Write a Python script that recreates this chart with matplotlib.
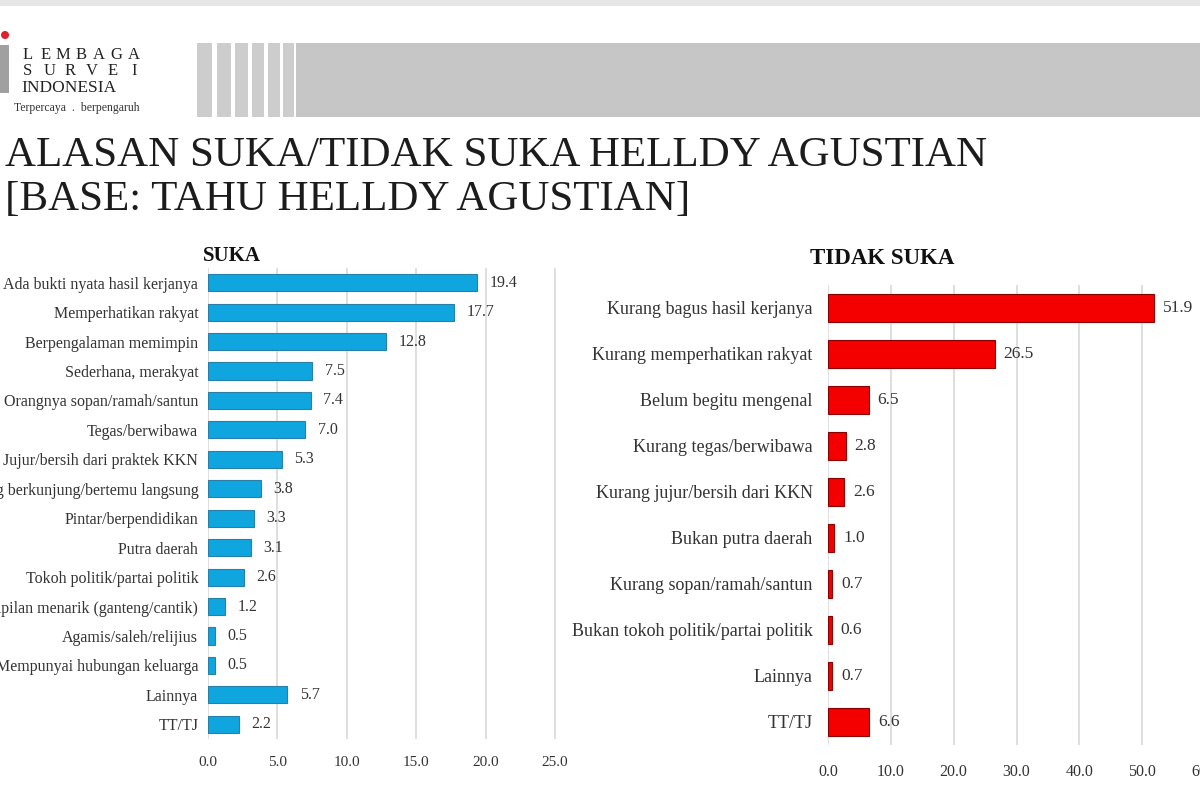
import matplotlib
matplotlib.use("Agg")
import matplotlib.pyplot as plt
from matplotlib.patches import Rectangle, Circle

plt.rcParams["font.family"] = ["Liberation Serif", "DejaVu Serif"]

# ── Data ─────────────────────────────────────────────────────────────────────
suka_labels = [
    "Ada bukti nyata hasil kerjanya",
    "Memperhatikan rakyat",
    "Berpengalaman memimpin",
    "Sederhana, merakyat",
    "Orangnya sopan/ramah/santun",
    "Tegas/berwibawa",
    "Jujur/bersih dari praktek KKN",
    "Sering berkunjung/bertemu langsung",
    "Pintar/berpendidikan",
    "Putra daerah",
    "Tokoh politik/partai politik",
    "Penampilan menarik (ganteng/cantik)",
    "Agamis/saleh/relijius",
    "Mempunyai hubungan keluarga",
    "Lainnya",
    "TT/TJ",
]
suka_values = [19.4, 17.7, 12.8, 7.5, 7.4, 7.0, 5.3, 3.8, 3.3, 3.1, 2.6, 1.2, 0.5, 0.5, 5.7, 2.2]
suka_ticks = [0, 5, 10, 15, 20, 25]

tidak_labels = [
    "Kurang bagus hasil kerjanya",
    "Kurang memperhatikan rakyat",
    "Belum begitu mengenal",
    "Kurang tegas/berwibawa",
    "Kurang jujur/bersih dari KKN",
    "Bukan putra daerah",
    "Kurang sopan/ramah/santun",
    "Bukan tokoh politik/partai politik",
    "Lainnya",
    "TT/TJ",
]
tidak_values = [51.9, 26.5, 6.5, 2.8, 2.6, 1.0, 0.7, 0.6, 0.7, 6.6]
tidak_ticks = [0, 10, 20, 30, 40, 50, 60]

BLUE = "#0fa6e0"
RED = "#f50000"
GRID = "#d9d9d9"
TEXT = "#333333"

fig = plt.figure(figsize=(12, 8), dpi=100)

# ── Header (banner, logo, title) ─────────────────────────────────────────────
bg = fig.add_axes([0, 0, 1, 1], zorder=-1)
bg.set_xlim(0, 1200)
bg.set_ylim(800, 0)
bg.axis("off")
bg.add_patch(Rectangle((0, 0), 1200, 6, color="#e6e6e6", lw=0))
for x0, x1 in [(197, 212), (217, 231), (235, 248), (252, 264), (268, 280), (283, 294)]:
    bg.add_patch(Rectangle((x0, 43), x1 - x0, 74, color="#cdcdcd", lw=0))
bg.add_patch(Rectangle((296, 43), 904, 74, color="#c6c6c6", lw=0))

bg.add_patch(Circle((5, 35), 4, color="#e0202a", lw=0))
bg.add_patch(Rectangle((0, 45), 9, 48, color="#a0a0a0", lw=0))
# logo words spread over the same width
for word, yy in [("LEMBAGA", 55), ("SURVEI", 71)]:
    n = len(word)
    for i, ch in enumerate(word):
        bg.text(28 + i * (106 / (n - 1)), yy, ch, fontsize=12, color="#222222",
                va="center", ha="center")
bg.text(21, 88, "INDONESIA", fontsize=12.5, color="#222222", va="center", ha="left")
bg.text(140, 108, "Terpercaya  .  berpengaruh", fontsize=8.5, color="#333333",
        va="center", ha="right")

bg.text(5, 156, "ALASAN SUKA/TIDAK SUKA HELLDY AGUSTIAN", fontsize=31,
        color="#1c1c1c", va="center", ha="left")
bg.text(5, 200, "[BASE: TAHU HELLDY AGUSTIAN]", fontsize=31,
        color="#1c1c1c", va="center", ha="left")


def style_axis(ax, ticks, xmax, size):
    ax.set_xlim(0, xmax)
    ax.set_xticks(ticks)
    ax.set_xticklabels([f"{t:.1f}" for t in ticks], fontsize=size, color=TEXT)
    ax.tick_params(axis="x", length=0, pad=12)
    ax.tick_params(axis="y", length=0, pad=8, labelcolor=TEXT)
    for s in ax.spines.values():
        s.set_visible(False)
    ax.grid(axis="x", color=GRID, linewidth=1.2)
    ax.set_axisbelow(True)


# ── SUKA ─────────────────────────────────────────────────────────────────────
ax1 = fig.add_axes([208 / 1200, 1 - 739 / 800, 348 / 1200, 471 / 800])
y1 = list(range(len(suka_values)))
ax1.barh(y1, suka_values, height=0.58, color=BLUE, edgecolor="#2a7fa8", linewidth=0.8)
ax1.set_yticks(y1)
ax1.set_yticklabels(suka_labels, fontsize=11.5)
ax1.set_ylim(len(suka_values) - 0.5, -0.5)
style_axis(ax1, suka_ticks, 25.07, 11)
ax1.tick_params(axis="y", pad=7)
for y, v in zip(y1, suka_values):
    ax1.text(v + 0.9, y, f"{v:.1f}", va="center", ha="left", fontsize=11.5, color=TEXT)
fig.text(232 / 1200, 1 - 256 / 800, "SUKA", fontsize=15, fontweight="bold",
         color="#111111", ha="center", va="center")

# ── TIDAK SUKA ───────────────────────────────────────────────────────────────
ax2 = fig.add_axes([828 / 1200, 1 - 745 / 800, 377 / 1200, 460 / 800])
y2 = list(range(len(tidak_values)))
ax2.barh(y2, tidak_values, height=0.6, color=RED, edgecolor="#8a0000", linewidth=0.8)
ax2.set_yticks(y2)
ax2.set_yticklabels(tidak_labels, fontsize=13)
ax2.set_ylim(len(tidak_values) - 0.5, -0.5)
style_axis(ax2, tidak_ticks, 60, 11.5)
ax2.tick_params(axis="x", pad=14)
ax2.tick_params(axis="y", pad=11)
for y, v in zip(y2, tidak_values):
    ax2.text(v + 1.4, y, f"{v:.1f}", va="center", ha="left", fontsize=12.5, color=TEXT)
fig.text(882 / 1200, 1 - 258 / 800, "TIDAK SUKA", fontsize=16.5, fontweight="bold",
         color="#111111", ha="center", va="center")

fig.savefig("out.png", dpi=100)
